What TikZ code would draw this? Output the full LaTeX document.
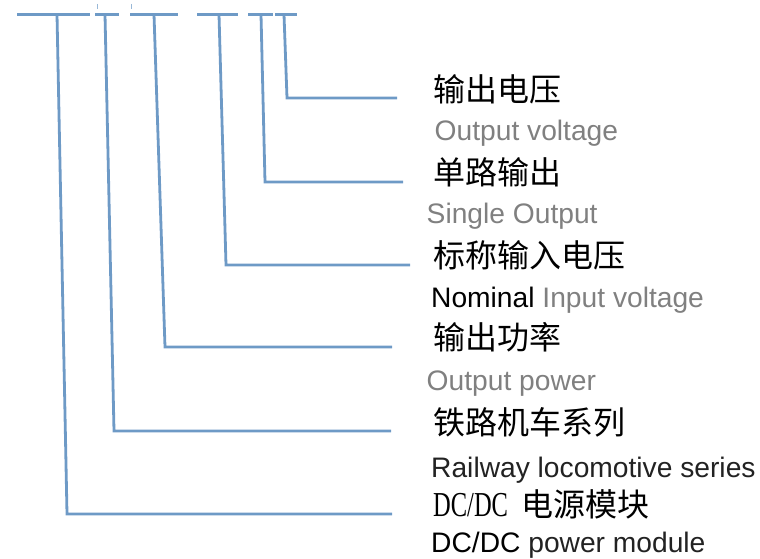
\documentclass[tikz,border=0pt]{standalone}
\usepackage{fontspec}
\setmainfont{Liberation Sans}
\newfontfamily\cjk{Noto Sans CJK SC}
\newfontfamily\serifdc[FakeStretch=0.7]{Liberation Serif}
\definecolor{lineblue}{HTML}{6E9AC6}
\definecolor{engray}{HTML}{808080}
\definecolor{engdark}{HTML}{222222}
\tikzset{
  conn/.style={draw=lineblue, line width=2.8pt, line join=miter},
  topbar/.style={draw=lineblue, line width=2.8pt},
  tick/.style={draw=lineblue!70, line width=1pt},
  zh/.style={anchor=base west, inner sep=0pt, font=\cjk\fontsize{32}{32}\selectfont, text=black},
  en/.style={anchor=base west, inner sep=0pt, font=\fontsize{28.2}{28.2}\selectfont, text=engray},
}
\begin{document}
\begin{tikzpicture}[x=1pt,y=-1pt]
\useasboundingbox (0,0) rectangle (760,559);
% top bars
\draw[topbar] (17,14.5) -- (90,14.5);
\draw[topbar] (95,14.5) -- (119,14.5);
\draw[topbar] (130,14.5) -- (178,14.5);
\draw[topbar] (197,14.5) -- (238,14.5);
\draw[topbar] (248,14.5) -- (273,14.5);
\draw[topbar] (275,14.5) -- (297,14.5);
\draw[tick] (97.5,4) -- (97.5,9);
\draw[tick] (131.5,4) -- (131.5,9);
% coordinates
\coordinate (t1) at (57,14.5);  \coordinate (c1) at (67,514);  \coordinate (e1) at (392,514);
\coordinate (t2) at (105,14.5); \coordinate (c2) at (114,431); \coordinate (e2) at (391,431);
\coordinate (t3) at (154,14.5); \coordinate (c3) at (165,347); \coordinate (e3) at (392,347);
\coordinate (t4) at (219,14.5); \coordinate (c4) at (226,265); \coordinate (e4) at (410,265);
\coordinate (t5) at (261,14.5); \coordinate (c5) at (265,182); \coordinate (e5) at (403,182);
\coordinate (t6) at (284,14.5); \coordinate (c6) at (287,98);  \coordinate (e6) at (397,98);
\draw[conn] (t1) -- (c1) -- (e1);
\draw[conn] (t2) -- (c2) -- (e2);
\draw[conn] (t3) -- (c3) -- (e3);
\draw[conn] (t4) -- (c4) -- (e4);
\draw[conn] (t5) -- (c5) -- (e5);
\draw[conn] (t6) -- (c6) -- (e6);
% labels
\node[zh] (z6) at (433,101.5) {输出电压};
\node[en] (n6) at (434.5,141) {Output voltage};
\node[zh] (z5) at (433,184.5) {单路输出};
\node[en] (n5) at (426.5,223) {Single Output};
\node[zh] (z4) at (433,267.5) {标称输入电压};
\node[en] (n4) at (431,307) {\textcolor{black}{Nominal} Input voltage};
\node[zh] (z3) at (433,349.5) {输出功率};
\node[en] (n3) at (426.5,390) {Output power};
\node[zh] (z2) at (433,434.5) {铁路机车系列};
\node[en, text=engdark] (n2) at (431,477) {Railway locomotive series};
\node[zh] (z1) at (433,516) {{\serifdc\fontsize{35}{35}\selectfont DC/DC}\hspace{13pt}电源模块};
\node[en, text=engdark] (n1) at (431,552) {\textcolor{black}{DC/DC} power module};
\end{tikzpicture}
\end{document}
